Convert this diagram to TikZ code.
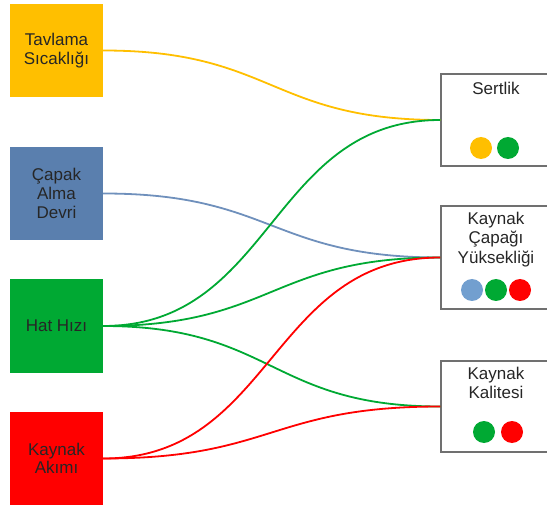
\documentclass[tikz,border=0pt]{standalone}
\usepackage{fontspec}
\setmainfont{Liberation Sans}
\usetikzlibrary{calc}
\definecolor{cgold}{HTML}{FFBF00}
\definecolor{cblue}{HTML}{5A7FAE}
\definecolor{cbluel}{HTML}{729FCF}
\definecolor{cblueline}{HTML}{6F90BC}
\definecolor{cgreen}{HTML}{00A933}
\definecolor{cred}{HTML}{FF0000}
\definecolor{cframe}{HTML}{707070}
\begin{document}
\begin{tikzpicture}[x=1pt,y=-1pt,
  every node/.style={font=\fontsize{17}{18.6}\selectfont},
  inbox/.style={rectangle, minimum width=93pt, minimum height=93pt, inner sep=0pt, align=center, text=black!85},
  outbox/.style={rectangle, draw=cframe, line width=1.4pt, fill=white, minimum width=110pt, inner sep=0pt},
  outtext/.style={anchor=north, align=center, inner sep=0pt, text=black!85,
    font=\fontsize{17}{19.5}\selectfont},
  dot/.style={circle, minimum size=22pt, inner sep=0pt},
  link/.style={line width=1.8pt}]
\useasboundingbox (0,0) rectangle (547,508);

% inputs
\node[inbox, fill=cgold]  (tav) at (56.5,50.5)  {Tavlama\\Sıcaklığı};
\node[inbox, fill=cblue]  (cap) at (56.5,193.5) {Çapak\\Alma\\Devri};
\node[inbox, fill=cgreen] (hat) at (56.5,326)   {Hat Hızı};
\node[inbox, fill=cred]   (akm) at (56.5,458.5) {Kaynak\\Akımı};

% outputs
\node[outbox, minimum height=92pt]  (sert) at (496,120)   {};
\node[outbox, minimum height=103pt] (yuk)  at (496,257.5) {};
\node[outbox, minimum height=91pt]  (kal)  at (496,406.5) {};

\node[outtext] (sertT) at ($(sert.north)+(0,8.5)$) {Sertlik};
\node[outtext] (yukT)  at ($(yuk.north)+(0,6.5)$)  {Kaynak\\Çapağı\\Yüksekliği};
\node[outtext] (kalT)  at ($(kal.north)+(0,6.5)$)  {Kaynak\\Kalitesi};

% factor markers
\node[dot, fill=cgold]  (s1) at (481,148) {};
\node[dot, fill=cgreen] (s2) at (508,148) {};
\node[dot, fill=cbluel] (y1) at (472,290) {};
\node[dot, fill=cgreen] (y2) at (496,290) {};
\node[dot, fill=cred]   (y3) at (520,290) {};
\node[dot, fill=cgreen] (k1) at (484,432) {};
\node[dot, fill=cred]   (k2) at (512,432) {};

% links
\draw[link, cgold]     (tav.east) .. controls +(170,0) and +(-170,0) .. (sert.west);
\draw[link, cblueline] (cap.east) .. controls +(170,0) and +(-170,0) .. (yuk.west);
\draw[link, cgreen]    (hat.east) .. controls +(170,0) and +(-170,0) .. (sert.west);
\draw[link, cgreen]    (hat.east) .. controls +(170,0) and +(-170,0) .. (yuk.west);
\draw[link, cgreen]    (hat.east) .. controls +(170,0) and +(-170,0) .. (kal.west);
\draw[link, cred]      (akm.east) .. controls +(170,0) and +(-170,0) .. (yuk.west);
\draw[link, cred]      (akm.east) .. controls +(170,0) and +(-170,0) .. (kal.west);
\end{tikzpicture}
\end{document}
